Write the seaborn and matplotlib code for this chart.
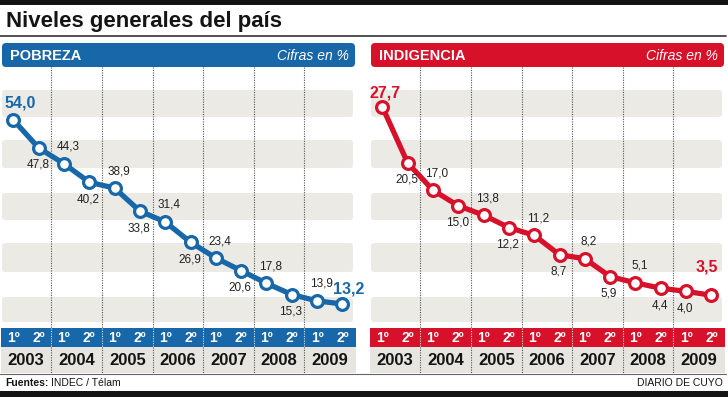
import matplotlib
matplotlib.use('Agg')
import matplotlib.pyplot as plt
import matplotlib.transforms as mtransforms
from matplotlib.patches import Rectangle, FancyBboxPatch
import seaborn as sns
import pandas as pd

# Datos (en %, por semestre 2003-2009)
anios = ['2003', '2004', '2005', '2006', '2007', '2008', '2009']
semestres = ['1º', '2º']
pobreza = [54.0, 47.8, 44.3, 40.2, 38.9, 33.8, 31.4, 26.9, 23.4, 20.6, 17.8, 15.3, 13.9, 13.2]
indigencia = [27.7, 20.5, 17.0, 15.0, 13.8, 12.2, 11.2, 8.7, 8.2, 5.9, 5.1, 4.4, 4.0, 3.5]
pobreza_lado = ['arriba', 'abajo'] * 6 + ['arriba', 'arriba']
indigencia_lado = ['arriba', 'abajo'] * 6 + ['abajo', 'arriba']

AZUL = '#1867a8'
ROJO = '#d7112a'
GRIS_BANDA = '#ebeae5'
GRIS_ANIO = '#e6e5e0'
NEGRO = '#141414'

W, H = 728, 397

sns.set_style('white')
plt.rcParams['font.family'] = ['Liberation Sans', 'DejaVu Sans']


def px(x, y, w, h):
    """Rectangle in pixel coords (origin top-left) -> figure fraction."""
    return [x / W, 1 - (y + h) / H, w / W, h / H]


def fmt(v):
    return f'{v:.1f}'.replace('.', ',')


fig = plt.figure(figsize=(W / 100, H / 100), dpi=100)

# fondo con coordenadas en pixeles para la decoracion
bg = fig.add_axes([0, 0, 1, 1], zorder=0)
bg.set_xlim(0, W)
bg.set_ylim(H, 0)
bg.axis('off')

bg.add_patch(Rectangle((0, 0), W, 4.5, color=NEGRO, lw=0))
bg.add_patch(Rectangle((0, 391), W, 6, color=NEGRO, lw=0))
bg.text(6, 21, 'Niveles generales del país', fontsize=16, fontweight='bold',
        color=NEGRO, va='center', ha='left')
bg.plot([0, 726], [35.5, 35.5], color='#333333', lw=1.2)
bg.plot([0, 726], [374, 374], color='#666666', lw=0.8)
fuente = bg.text(5, 383.5, 'Fuentes:', fontsize=7.5, fontweight='bold', color=NEGRO,
                 va='center')
bg.annotate('INDEC / Télam', xy=(1, 0.5), xycoords=fuente, xytext=(3, 0),
            textcoords='offset pixels', fontsize=7.5, color=NEGRO, va='center')
bg.text(723, 383.5, 'DIARIO DE CUYO', fontsize=7.5, color=NEGRO, va='center', ha='right')

bandas = [(90, 117), (140, 168), (193, 220), (243, 272), (297, 322)]

paneles = [
    dict(ox=0, titulo='POBREZA', color=AZUL, valores=pobreza, lados=pobreza_lado,
         ylim=(7.88, 65.75), primero=(7, 17), ultimo=(6, 15)),
    dict(ox=369, titulo='INDIGENCIA', color=ROJO, valores=indigencia, lados=indigencia_lado,
         ylim=(-0.71, 32.84), primero=(3, 14), ultimo=(-5, 28)),
]

for p in paneles:
    ox, color = p['ox'], p['color']

    # encabezado
    bg.add_patch(FancyBboxPatch((ox + 2, 43), 353, 24, boxstyle='round,pad=0,rounding_size=4',
                                color=color, lw=0))
    bg.text(ox + 10, 55.5, p['titulo'], fontsize=10.5, fontweight='bold', color='white',
            va='center', ha='left')
    bg.text(ox + 349, 55.5, 'Cifras en %', fontsize=10, fontstyle='italic', color='white',
            va='center', ha='right')

    # bandas grises
    for y0, y1 in bandas:
        bg.add_patch(FancyBboxPatch((ox + 2, y0), 351, y1 - y0,
                                    boxstyle='round,pad=0,rounding_size=3',
                                    color=GRIS_BANDA, lw=0))

    # barra de semestres y fila de anios
    bg.add_patch(Rectangle((ox + 0.5, 328), 355, 19, color=color, lw=0))
    bg.add_patch(Rectangle((ox + 0.5, 347), 355, 26, color=GRIS_ANIO, lw=0))

    # eje de datos
    ax = fig.add_axes(px(ox + 2, 67, 353, 261), zorder=1)
    ax.set_facecolor('none')
    ax.set_xlim(-0.45, 13.5)
    ax.set_ylim(*p['ylim'])
    ax.axis('off')

    trans = mtransforms.blended_transform_factory(ax.transData, ax.transAxes)
    y_barra = -(337.5 - 328) / 261
    y_anio = -(360.5 - 328) / 261
    y_sep = -(347 - 328) / 261
    y_fin = -(373 - 328) / 261

    for k in range(len(anios) - 1):
        xs = 2 * k + 1.5
        ax.plot([xs, xs], [1, 0], transform=trans, clip_on=False, color='#555555',
                lw=0.8, ls=(0, (1, 1.2)), zorder=1)
        ax.plot([xs, xs], [0, y_sep], transform=trans, clip_on=False, color='#d8e4ee',
                lw=0.8, ls=(0, (1, 1.2)), zorder=1)
        ax.plot([xs, xs], [y_sep, y_fin], transform=trans, clip_on=False, color='#555555',
                lw=0.8, ls=(0, (1, 1.2)), zorder=1)

    for k, anio in enumerate(anios):
        for j, s in enumerate(semestres):
            ax.text(2 * k + j, y_barra, s, transform=trans, ha='center', va='center',
                    fontsize=10, fontweight='bold', color='white', clip_on=False)
        ax.text(2 * k + 0.5, y_anio, anio, transform=trans, ha='center', va='center',
                fontsize=12, fontweight='bold', color=NEGRO, clip_on=False)

    df = pd.DataFrame({'periodo': range(len(p['valores'])), 'valor': p['valores']})
    sns.lineplot(data=df, x='periodo', y='valor', ax=ax, color=color, lw=3.8,
                 marker='o', markersize=8.5, markerfacecolor='white',
                 markeredgecolor=color, markeredgewidth=2.3, zorder=3)
    ax.axis('off')

    n = len(p['valores'])
    for i, v in enumerate(p['valores']):
        if i == 0 or i == n - 1:
            dx, dy = p['primero'] if i == 0 else p['ultimo']
            ax.annotate(fmt(v), (i, v), xytext=(dx, dy), textcoords='offset pixels',
                        ha='center', va='center', fontsize=11.5, fontweight='bold',
                        color=color, zorder=4)
        elif p['lados'][i] == 'arriba':
            ax.annotate(fmt(v), (i, v), xytext=(4, 17), textcoords='offset pixels',
                        ha='center', va='center', fontsize=8.5, color='#222222', zorder=4)
        else:
            ax.annotate(fmt(v), (i, v), xytext=(-1, -17), textcoords='offset pixels',
                        ha='center', va='center', fontsize=8.5, color='#222222', zorder=4)

fig.savefig('out.png', dpi=100)
